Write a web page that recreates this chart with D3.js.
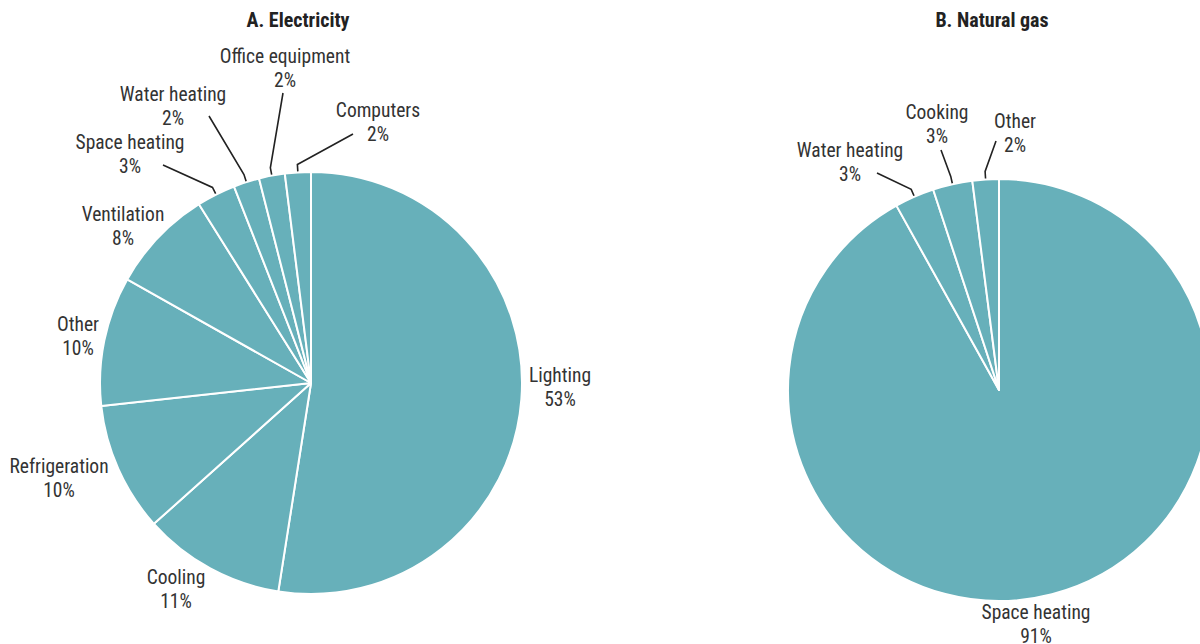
<!DOCTYPE html>
<html>
<head>
<meta charset="utf-8">
<title>Energy end use</title>
<script src="https://cdn.jsdelivr.net/npm/d3@7"></script>
<style>
  body { margin: 0; background: #fff; }
  text { font-family: "Liberation Sans Narrow", "Roboto Condensed", "Arial Narrow", sans-serif; fill: #333; }
</style>
</head>
<body>
<svg width="1200" height="644"></svg>
<script>
// data
var elecCategories = ["Lighting", "Cooling", "Refrigeration", "Other", "Ventilation",
  "Space heating", "Water heating", "Office equipment", "Computers"];
var elecValues = [53, 11, 10, 10, 8, 3, 2, 2, 2];
var gasCategories = ["Space heating", "Water heating", "Cooking", "Other"];
var gasValues = [91, 3, 3, 2];
var titles = ["A. Electricity", "B. Natural gas"];

// label placement, relative to each pie's centre (text pos, optional leader end)
var elecLabels = [
  {t: [249, -7]}, {t: [-135, 195]}, {t: [-252, 84]}, {t: [-233, -58]}, {t: [-188, -168]},
  {t: [-181, -240], l: [-148, -218]}, {t: [-138, -288], l: [-102, -267]},
  {t: [-26, -326], l: [-28, -290]}, {t: [67, -272], l: [42, -249]}
];
var gasLabels = [
  {t: [37, 223]}, {t: [-149, -239], l: [-122, -217]},
  {t: [-62, -277], l: [-58, -240]}, {t: [16, -268], l: [-3, -249]}
];

var svg = d3.select("svg");
var radius = 211;
var fill = "#67b0ba";

var pie = d3.pie().sort(null).value(function(d) { return d.v; });
var arc = d3.arc().innerRadius(0).outerRadius(radius);

function drawPie(cx, cy, cats, vals, labels, title, titleX) {
  var data = cats.map(function(c, i) { return {name: c, v: vals[i], lab: labels[i]}; });
  var g = svg.append("g").attr("transform", "translate(" + cx + "," + cy + ")");

  var arcs = pie(data);
  g.selectAll("path.slice")
    .data(arcs)
    .enter().append("path")
    .attr("class", "slice")
    .attr("d", arc)
    .attr("fill", fill)
    .attr("stroke", "#fff")
    .attr("stroke-width", 2)
    .attr("stroke-linejoin", "round");

  // leader lines
  g.selectAll("path.leader")
    .data(arcs.filter(function(d) { return d.data.lab.l; }))
    .enter().append("path")
    .attr("class", "leader")
    .attr("fill", "none")
    .attr("stroke", "#222")
    .attr("stroke-width", 1.6)
    .attr("d", function(d) {
      var a = (d.startAngle + d.endAngle) / 2;
      var p0 = [Math.sin(a) * (radius + 1), -Math.cos(a) * (radius + 1)];
      var p1 = [Math.sin(a) * (radius + 8), -Math.cos(a) * (radius + 8)];
      return d3.line()([p0, p1, d.data.lab.l]);
    });

  var txt = g.selectAll("text.lab")
    .data(arcs)
    .enter().append("text")
    .attr("class", "lab")
    .attr("text-anchor", "middle")
    .attr("font-size", 19.5)
    .attr("transform", function(d) { return "translate(" + d.data.lab.t + ")"; });
  txt.append("tspan").attr("x", 0).attr("y", 6).text(function(d) { return d.data.name; });
  txt.append("tspan").attr("x", 0).attr("y", 30)
    .text(function(d) { return d3.format(".0f")(d.data.v) + "%"; });

  svg.append("text")
    .attr("x", titleX).attr("y", 27)
    .attr("text-anchor", "middle")
    .attr("font-size", 20)
    .attr("font-weight", "bold")
    .style("fill", "#222")
    .text(title);
}

drawPie(311, 383, elecCategories, elecValues, elecLabels, titles[0], 298);
drawPie(999, 390, gasCategories, gasValues, gasLabels, titles[1], 992);
</script>
</body>
</html>
